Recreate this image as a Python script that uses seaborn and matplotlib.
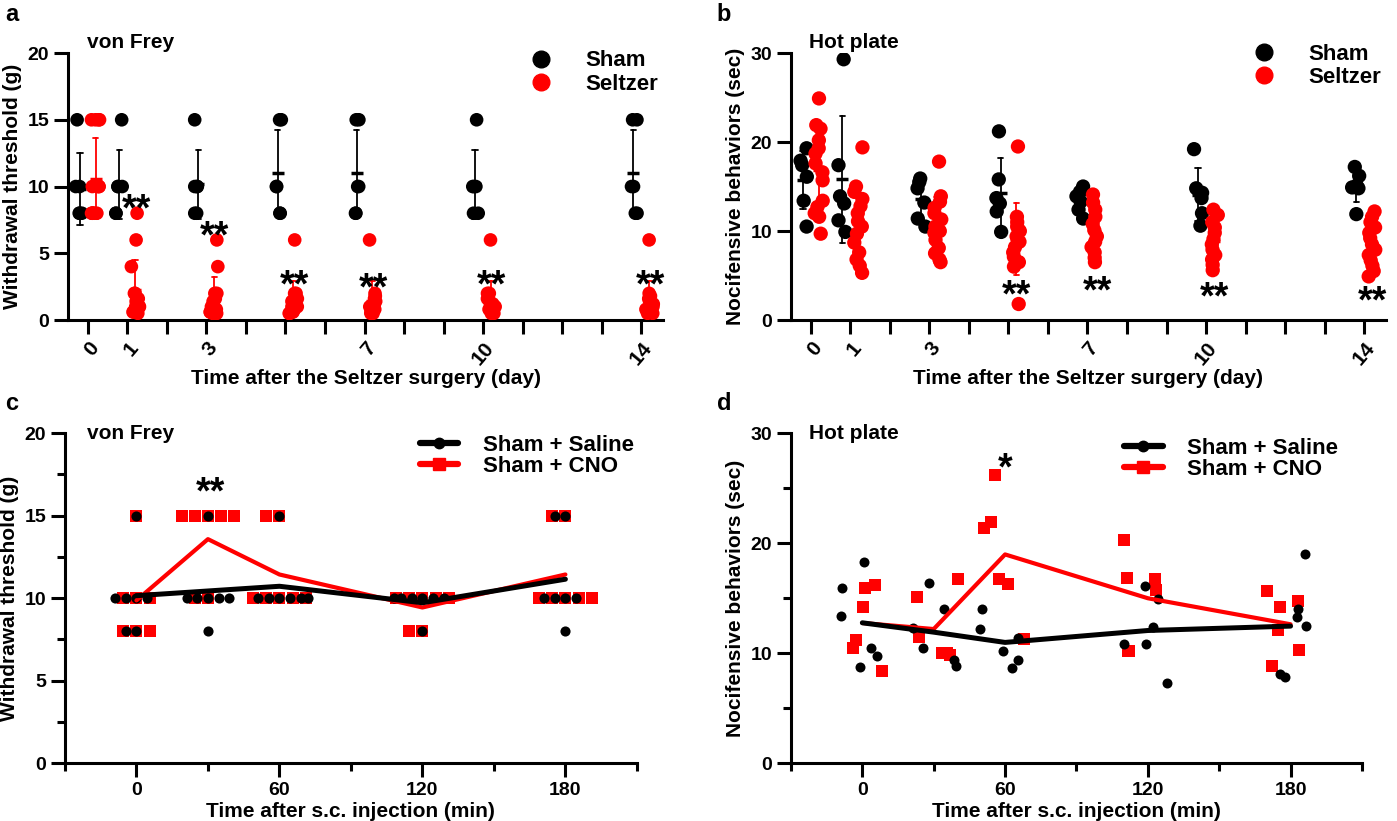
import numpy as np
import pandas as pd
import matplotlib.pyplot as plt
import seaborn as sns
from matplotlib.lines import Line2D
from matplotlib.ticker import MultipleLocator

# ---- data ----
days = [0, 1, 3, 5, 7, 10, 14]
day_tick_labels = ['0', '1', '', '3', '', '', '', '7', '', '', '10', '', '', '', '14']

# a: von Frey withdrawal threshold (g)
vf_sham = [
    [15, 10, 10, 8, 8, 8],
    [15, 10, 10, 10, 8, 8],
    [15, 10, 10, 10, 8, 8],
    [15, 15, 10, 10, 8, 8],
    [15, 15, 10, 10, 8, 8],
    [15, 10, 10, 10, 8, 8],
    [15, 15, 10, 10, 8, 8],
]
vf_seltzer = [
    [15, 15, 15, 15, 10, 10, 10, 10, 8, 8, 8, 8, 8, 8],
    [8, 6, 4, 2, 2, 1.6, 1.4, 1.4, 1, 1, 1, 0.6, 0.6, 0.5],
    [6, 4, 2, 2, 1.6, 1.4, 1, 1, 0.8, 0.6, 0.6, 0.5, 0.5, 0.5],
    [6, 2, 2, 1.6, 1.4, 1.2, 1, 1, 0.8, 0.6, 0.6, 0.5, 0.5],
    [6, 2, 1.8, 1.6, 1.4, 1.2, 1, 1, 0.8, 0.6, 0.6, 0.5, 0.5],
    [6, 2, 2, 1.6, 1.4, 1.2, 1, 1, 0.8, 0.6, 0.6, 0.5, 0.5],
    [6, 2, 1.8, 1.6, 1.4, 1.2, 1, 1, 0.8, 0.6, 0.6, 0.5, 0.5],
]

# b: hot plate nocifensive behaviours (sec)
hp_sham = [
    [19.3, 17.9, 17.4, 16.1, 13.4, 10.5],
    [29.3, 17.4, 13.9, 13.1, 11.2, 9.9],
    [15.9, 15.5, 14.8, 13.2, 11.4, 10.5],
    [21.2, 15.8, 13.7, 13.1, 12.2, 9.9],
    [15.0, 14.4, 13.9, 13.3, 12.4, 11.4],
    [19.2, 14.8, 14.3, 13.7, 12.0, 10.6],
    [17.2, 16.2, 15.1, 14.9, 14.8, 11.9],
]
hp_seltzer = [
    [24.9, 21.9, 21.5, 20.2, 19.3, 18.7, 17.6, 16.6, 15.7, 13.4, 12.7, 12.0, 11.6, 9.7],
    [19.4, 15.0, 14.4, 13.6, 12.8, 12.0, 11.1, 10.5, 9.7, 8.7, 7.6, 6.8, 6.1, 5.3],
    [17.8, 13.9, 13.3, 12.6, 12.0, 11.3, 10.5, 10.0, 9.8, 9.0, 8.1, 7.5, 6.8, 6.5],
    [19.5, 11.6, 11.0, 10.5, 10.0, 9.4, 8.8, 8.2, 7.6, 7.1, 6.5, 6.0, 1.8],
    [14.1, 13.2, 12.4, 11.6, 10.8, 10.1, 9.4, 8.8, 8.2, 7.6, 7.0, 6.5],
    [12.4, 11.8, 11.0, 10.4, 9.8, 9.1, 8.5, 7.9, 7.3, 6.8, 6.2, 5.6],
    [12.2, 11.6, 11.0, 10.4, 9.8, 9.2, 8.5, 7.9, 7.3, 6.7, 6.1, 5.5, 4.9],
]

# c/d: time after s.c. injection (min)
minutes = [0, 30, 60, 120, 180]
vf_saline = [
    [15, 10, 10, 10, 10, 8, 8],
    [15, 10, 10, 10, 10, 10, 8],
    [15, 10, 10, 10, 10, 10, 10],
    [10, 10, 10, 10, 10, 10, 8],
    [15, 15, 10, 10, 10, 10, 8],
]
vf_cno = [
    [15, 10, 10, 10, 8, 8, 8],
    [15, 15, 15, 15, 15, 10, 10],
    [15, 15, 10, 10, 10, 10, 10],
    [10, 10, 10, 10, 10, 8, 8],
    [15, 15, 10, 10, 10, 10, 10],
]
hp_saline = [
    [18.3, 15.9, 13.4, 10.5, 9.7, 8.7],
    [16.4, 14.0, 12.3, 10.5, 9.4, 8.8],
    [14.0, 12.2, 11.4, 10.2, 9.4, 8.6],
    [16.1, 14.9, 12.4, 10.8, 10.8, 7.3],
    [19.0, 14.0, 13.3, 12.5, 8.1, 7.8],
]
hp_cno = [
    [16.2, 15.9, 14.2, 11.2, 10.5, 8.4],
    [16.7, 15.1, 11.5, 10.0, 10.0, 9.8],
    [26.2, 21.9, 21.4, 16.7, 16.3, 11.3],
    [20.3, 16.8, 16.7, 15.7, 10.2, 10.2],
    [15.6, 14.7, 14.2, 12.1, 10.3, 8.8],
]

RED = '#ff0000'

sns.set_style('ticks')
plt.rcParams['font.family'] = ['Liberation Sans', 'DejaVu Sans']
plt.rcParams.update({
    'font.weight': 'bold',
    'axes.labelweight': 'bold',
    'axes.linewidth': 2.2,
    'text.color': 'black',
    'axes.labelcolor': 'black',
    'axes.edgecolor': 'black',
    'xtick.color': 'black',
    'ytick.color': 'black',
})
np.random.seed(11)


def long_frame(times, groups):
    rows = []
    for name, series in groups.items():
        for t, vals in zip(times, series):
            rows += [{'time': t, 'value': v, 'group': name} for v in vals]
    return pd.DataFrame(rows)


def style_axis(ax):
    ax.spines[['top', 'right']].set_visible(False)
    ax.tick_params(which='major', width=2.2, length=10, labelsize=14, direction='out')
    ax.tick_params(which='minor', width=2.2, length=6, direction='out')


def stars(ax, x, y, text):
    ax.annotate(text, xy=(x, y), xytext=(0, -15), textcoords='offset points',
                ha='center', va='baseline', fontsize=27, fontweight='bold', color='black')


def day_panel(ax, df, ymax, ystep, size):
    pal = {'Sham': 'black', 'Seltzer': RED}
    order = ['Sham', 'Seltzer']
    sns.pointplot(data=df, x='time', y='value', hue='group', hue_order=order, palette=pal,
                  native_scale=True, dodge=0.4, errorbar='sd', capsize=0.14,
                  markers='_', linestyles='none', markersize=8, markeredgewidth=2.5,
                  err_kws={'linewidth': 1.3}, legend=False, ax=ax)
    sns.stripplot(data=df, x='time', y='value', hue='group', hue_order=order, palette=pal,
                  dodge=True, native_scale=True, jitter=0.22, size=size, linewidth=0,
                  legend=False, zorder=3, ax=ax)
    style_axis(ax)
    ax.set_xlim(-0.5, 14.55)
    ax.set_ylim(0, ymax)
    ax.yaxis.set_major_locator(MultipleLocator(ystep))
    ax.set_xticks(range(15))
    ax.set_xticklabels(day_tick_labels, rotation=50, ha='right', va='top',
                       rotation_mode='anchor', fontsize=15)
    ax.set_xlabel('Time after the Seltzer surgery (day)', fontsize=15, labelpad=0)
    handles = [Line2D([], [], ls='none', marker='o', ms=12, color='black'),
               Line2D([], [], ls='none', marker='o', ms=12, color=RED)]
    return handles, order


fig = plt.figure(figsize=(13.97, 8.21), dpi=100)
ax_a = fig.add_axes([0.0487, 0.6102, 0.4259, 0.3252])
ax_b = fig.add_axes([0.5662, 0.6102, 0.4259, 0.3252])
ax_c = fig.add_axes([0.0465, 0.0706, 0.4094, 0.4019])
ax_d = fig.add_axes([0.5662, 0.0706, 0.4087, 0.4019])

# ---- a ----
df_a = long_frame(days, {'Sham': vf_sham, 'Seltzer': vf_seltzer})
h, lab = day_panel(ax_a, df_a, 20, 5, 9.8)
ax_a.set_ylabel('Withdrawal threshold (g)', fontsize=15)
ax_a.legend(h, lab, loc='upper left', bbox_to_anchor=(0.776, 1.01), frameon=False,
            fontsize=16, handlelength=1, handletextpad=1.5, labelspacing=0.1,
            borderpad=0, borderaxespad=0)
ax_a.text(0.032, 1.04, 'von Frey', transform=ax_a.transAxes, fontsize=15, va='center')
for d, y in [(1.24, 9.0), (3.2, 7.0), (5.22, 3.3), (7.22, 3.1), (10.22, 3.3), (14.24, 3.3)]:
    stars(ax_a, d, y, '**')

# ---- b ----
df_b = long_frame(days, {'Sham': hp_sham, 'Seltzer': hp_seltzer})
h, lab = day_panel(ax_b, df_b, 30, 10, 10.3)
ax_b.set_ylabel('Nocifensive behaviors (sec)', fontsize=15)
ax_b.legend(h, lab, loc='upper left', bbox_to_anchor=(0.776, 1.035), frameon=False,
            fontsize=16, handlelength=1, handletextpad=1.5, labelspacing=0.1,
            borderpad=0, borderaxespad=0)
ax_b.text(0.03, 1.04, 'Hot plate', transform=ax_b.transAxes, fontsize=15, va='center')
for d, y in [(5.2, 3.9), (7.24, 4.3), (10.21, 3.6), (14.22, 3.2)]:
    stars(ax_b, d, y, '**')

# ---- c ----
df_c = long_frame(minutes, {'Saline': vf_saline, 'CNO': vf_cno})
sal = df_c[df_c['group'] == 'Saline']
cno = df_c[df_c['group'] == 'CNO']
sns.swarmplot(data=cno, x='time', y='value', native_scale=True, color=RED, marker='s',
              size=9, linewidth=0, warn_thresh=1, zorder=2, ax=ax_c)
sns.swarmplot(data=sal, x='time', y='value', native_scale=True, color='black', marker='o',
              size=7.3, linewidth=0, warn_thresh=1, zorder=3, ax=ax_c)
sns.lineplot(data=cno, x='time', y='value', estimator='mean', errorbar=None, color=RED,
             linewidth=3, zorder=4, ax=ax_c)
sns.lineplot(data=sal, x='time', y='value', estimator='mean', errorbar=None, color='black',
             linewidth=3.6, zorder=5, ax=ax_c)
ax_c.set_ylim(0, 20)
ax_c.yaxis.set_major_locator(MultipleLocator(5))
ax_c.yaxis.set_minor_locator(MultipleLocator(2.5))
ax_c.set_ylabel('Withdrawal threshold (g)', fontsize=15)
ax_c.text(0.038, 1.0, 'von Frey', transform=ax_c.transAxes, fontsize=15, va='center')
stars(ax_c, 31, 17.0, '**')

# ---- d ----
df_d = long_frame(minutes, {'Saline': hp_saline, 'CNO': hp_cno})
sal = df_d[df_d['group'] == 'Saline']
cno = df_d[df_d['group'] == 'CNO']
sns.stripplot(data=cno, x='time', y='value', native_scale=True, color=RED, marker='s',
              size=8.5, linewidth=0, jitter=0.35, zorder=2, ax=ax_d)
sns.stripplot(data=sal, x='time', y='value', native_scale=True, color='black', marker='o',
              size=7.2, linewidth=0, jitter=0.35, zorder=3, ax=ax_d)
sns.lineplot(data=cno, x='time', y='value', estimator='mean', errorbar=None, color=RED,
             linewidth=3, zorder=4, ax=ax_d)
sns.lineplot(data=sal, x='time', y='value', estimator='mean', errorbar=None, color='black',
             linewidth=3.6, zorder=5, ax=ax_d)
ax_d.set_ylim(0, 30)
ax_d.yaxis.set_major_locator(MultipleLocator(10))
ax_d.yaxis.set_minor_locator(MultipleLocator(5))
ax_d.set_ylabel('Nocifensive behaviors (sec)', fontsize=15)
ax_d.text(0.032, 1.0, 'Hot plate', transform=ax_d.transAxes, fontsize=15, va='center')
stars(ax_d, 60, 27.7, '*')

line_handles = [Line2D([], [], color='black', lw=4.5, marker='o', ms=7.5),
                Line2D([], [], color=RED, lw=4.5, marker='s', ms=8.5)]
for ax, anchor in [(ax_c, (0.62, 0.995)), (ax_d, (0.583, 0.985))]:
    style_axis(ax)
    ax.set_xlim(-30, 210)
    ax.xaxis.set_major_locator(MultipleLocator(60))
    ax.xaxis.set_minor_locator(MultipleLocator(30))
    ax.set_xlabel('Time after s.c. injection (min)', fontsize=15, labelpad=2)
    ax.legend(line_handles, ['Sham + Saline', 'Sham + CNO'], loc='upper left',
              bbox_to_anchor=anchor, frameon=False, fontsize=16, handlelength=1.75,
              handletextpad=1.1, labelspacing=0.0, borderpad=0, borderaxespad=0)

for x, y, s in [(0.004, 0.982, 'a'), (0.513, 0.982, 'b'), (0.004, 0.508, 'c'), (0.513, 0.508, 'd')]:
    fig.text(x, y, s, fontsize=17, fontweight='bold', va='center')

fig.savefig('out.png', dpi=100)
